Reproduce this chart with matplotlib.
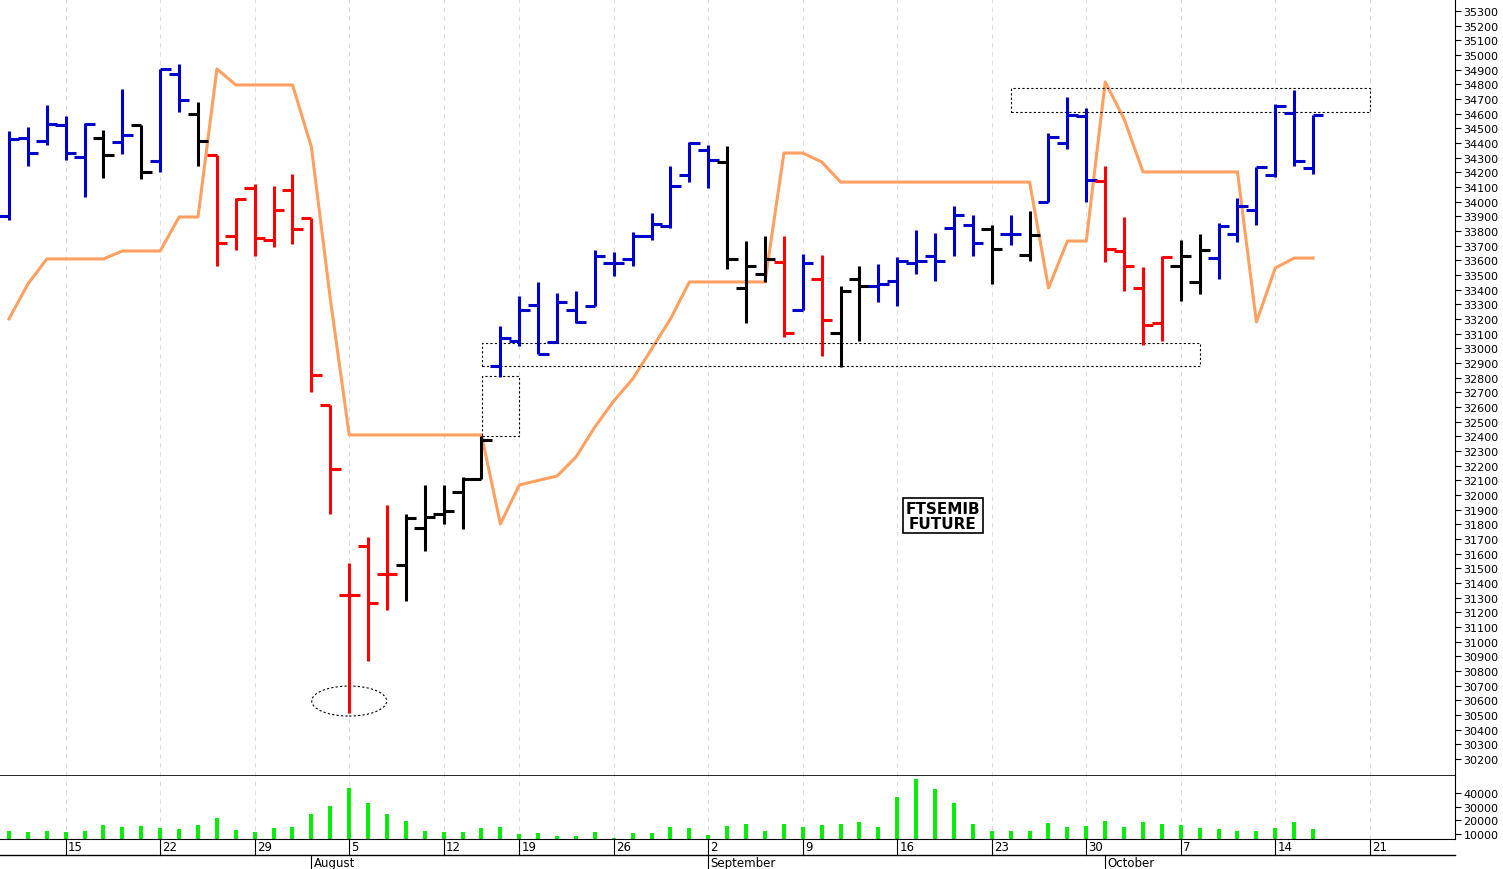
import matplotlib
matplotlib.use("Agg")
import matplotlib.pyplot as plt
from matplotlib.patches import Rectangle, Ellipse
from matplotlib.transforms import blended_transform_factory
import numpy as np

opens = [33900,34435,34411,34523,34302,34435,34407,34523,34278,34871,34598,34319,33768,34094,33739,34080,33889,32614,31319,31653,
         31462,31524,31779,31874,32021,32110,32880,33051,33296,33044,33262,33289,33582,33610,33767,33835,34182,34353,34271,33412,
         33507,33589,33262,33473,33105,33473,33426,33460,33582,33630,33821,33841,33814,33780,33637,34000,34400,34585,34141,33664,
         33412,33174,33562,33453,33616,33780,33944,34182,34605,34230]
highs = [34479,34509,34662,34585,34537,34489,34768,34523,34908,34939,34680,34319,34025,34124,34109,34189,33889,32614,31534,31711,
         31933,31874,32069,32072,32126,32406,33153,33357,33453,33378,33391,33671,33657,33794,33923,34244,34407,34387,34380,33732,
         33767,33767,33644,33637,33426,33562,33576,33623,33807,33787,33971,33910,33842,33910,33937,34469,34714,34639,34244,33896,
         33555,33630,33739,33780,33855,34025,34237,34666,34762,34591]
lows = [33872,34244,34390,34287,34029,34162,34325,34155,34206,34612,34244,33562,33674,33627,33694,33715,32703,31874,30515,30869,
        31217,31278,31622,31800,31769,32110,32805,33017,32962,33037,33173,33289,33494,33562,33739,33821,34134,34094,33542,33173,
        33453,33078,33262,32948,32873,33051,33316,33289,33507,33460,33630,33630,33440,33705,33596,34000,34359,34000,33589,33392,
        33023,33051,33323,33371,33473,33726,33842,34169,34244,34189]
closes = [34430,34332,34530,34332,34532,34319,34455,34203,34908,34693,34411,33719,34019,33753,33946,33814,32821,32178,31319,31267,
          31462,31844,31851,31889,32110,32376,33071,33262,32962,33316,33180,33630,33582,33767,33848,34107,34400,34285,33610,33562,
          33610,33105,33582,33194,33392,33426,33439,33596,33596,33596,33910,33719,33677,33780,33773,34441,34591,34148,33677,33562,
          33160,33623,33630,33671,33835,33971,34237,34653,34278,34591]
bar_colors = (['#0000cc']*5 + ['black'] + ['#0000cc'] + ['black'] + ['#0000cc']*2 + ['black'] + ['#ff0000']*10 + ['black']*5 +
              ['#0000cc']*12 + ['black']*3 + ['#ff0000'] + ['#0000cc'] + ['#ff0000'] + ['black']*2 + ['#0000cc']*6 + ['black'] +
              ['#0000cc'] + ['black'] + ['#0000cc']*3 + ['#ff0000']*4 + ['black']*2 + ['#0000cc']*6)
stop_line = [33201,33439,33610,33610,33610,33610,33664,33664,33664,33896,33896,34905,34796,34796,34796,34796,34373,33337,32410,32410,
             32410,32410,32410,32410,32410,32410,31803,32069,32100,32130,32260,32465,32642,32792,32996,33201,33453,33453,33453,33453,
             33453,34332,34332,34271,34134,34134,34134,34134,34134,34134,34134,34134,34134,34134,34134,33412,33732,33732,34816,34564,
             34203,34203,34203,34203,34203,34203,33180,33548,33616,33616]
volumes = [12400,11200,12000,11200,12000,16600,14900,15600,14200,13400,16600,21500,13100,11200,14200,14900,24600,30200,43400,32400,
           24600,19300,12400,11200,11700,14200,14900,9800,10700,8800,8800,11200,7100,10500,10700,14900,14200,9500,15600,17300,
           12400,17300,14900,16600,17300,18500,15300,36800,50100,42800,32400,17300,12400,12400,12400,18000,15300,15600,19300,15300,
           18500,17300,16600,14200,13600,12400,12400,14400,18500,13600]
tick_pos = [4,9,14,19,24,28,33,38,43,48,53,58,63,68,73]
tick_labels = ['15','22','29','5','12','19','26','2','9','16','23','30','7','14','21']
month_pos = [17,38,59]
month_labels = ['August','September','October']

x = np.arange(1, len(opens)+1)
W, H = 1503, 870
fig = plt.figure(figsize=(W/100, H/100), dpi=100)
axw = 1455/W
ax = fig.add_axes([0, 1-777/H, axw, 777/H])
axv = fig.add_axes([0, 1-840/H, axw, 63/H])
xl = (1 - 9/18.9, 1 + 1446/18.9)
for a in (ax, axv):
    a.set_xlim(*xl)
    for t in tick_pos:
        a.axvline(t, color='#dddddd', lw=0.8, ls=(0, (4, 4)), zorder=0)
ax.set_ylim(30085, 35382)
axv.set_ylim(6350, 52300)

tw = 0.55
for i in range(len(x)):
    c = bar_colors[i]
    ax.vlines(x[i], lows[i], highs[i], color=c, lw=2.2)
    ax.hlines(opens[i], x[i]-tw, x[i], color=c, lw=2.2)
    ax.hlines(closes[i], x[i], x[i]+tw, color=c, lw=2.2)
ax.plot(x, stop_line, color='#ffa060', lw=2.2, zorder=1)

def px2x(p):
    return 1 + (p-9)/18.9
box = dict(fill=False, ls=(0, (2, 2)), lw=0.8, ec='black')
ax.add_patch(Rectangle((px2x(1011), 34611), px2x(1370)-px2x(1011), 164, **box))
ax.add_patch(Rectangle((px2x(482), 32880), px2x(1200)-px2x(482), 157, **box))
ax.add_patch(Rectangle((px2x(482), 32403), px2x(519)-px2x(482), 409, **box))
ax.add_patch(Ellipse((19, 30596), 75/18.9, 205, **box))
ax.text(px2x(943), 31860, 'FTSEMIB\nFUTURE', ha='center', va='center', fontsize=11, fontweight='bold',
        family='DejaVu Sans', linespacing=1.0,
        bbox=dict(boxstyle='square,pad=0.15', fc='white', ec='black', lw=1.2))

axv.vlines(x, 0, volumes, color='#00ee00', lw=2.8)

for a in (ax, axv):
    for s in ('left', 'top', 'bottom'):
        a.spines[s].set_visible(False)
    a.yaxis.tick_right()
    a.tick_params(axis='y', labelsize=8, length=4, pad=2)
    a.set_xticks([])
ax.spines['bottom'].set_visible(True)
ax.spines['bottom'].set_linewidth(1.2)
ax.set_yticks(np.arange(30200, 35301, 100))
axv.set_yticks([10000, 20000, 30000, 40000])
axv.spines['bottom'].set_visible(True)

# date rows
fig.add_artist(plt.Line2D([0, axw], [1-856/H, 1-856/H], color='black', lw=1, transform=fig.transFigure))
tr = blended_transform_factory(axv.transData, fig.transFigure)
for p, l in zip(tick_pos, tick_labels):
    fig.add_artist(plt.Line2D([p, p], [1-840/H, 1-856/H], color='black', lw=0.8, transform=tr))
    axv.text(p+0.12, 1-848/H, l, transform=tr, fontsize=8.5, va='center', ha='left')
for p, l in zip(month_pos, month_labels):
    fig.add_artist(plt.Line2D([p, p], [1-856/H, 0], color='black', lw=0.8, transform=tr))
    axv.text(p+0.12, 1-864/H, l, transform=tr, fontsize=8.5, va='center', ha='left')

fig.savefig('out.png', dpi=100, facecolor='white')
